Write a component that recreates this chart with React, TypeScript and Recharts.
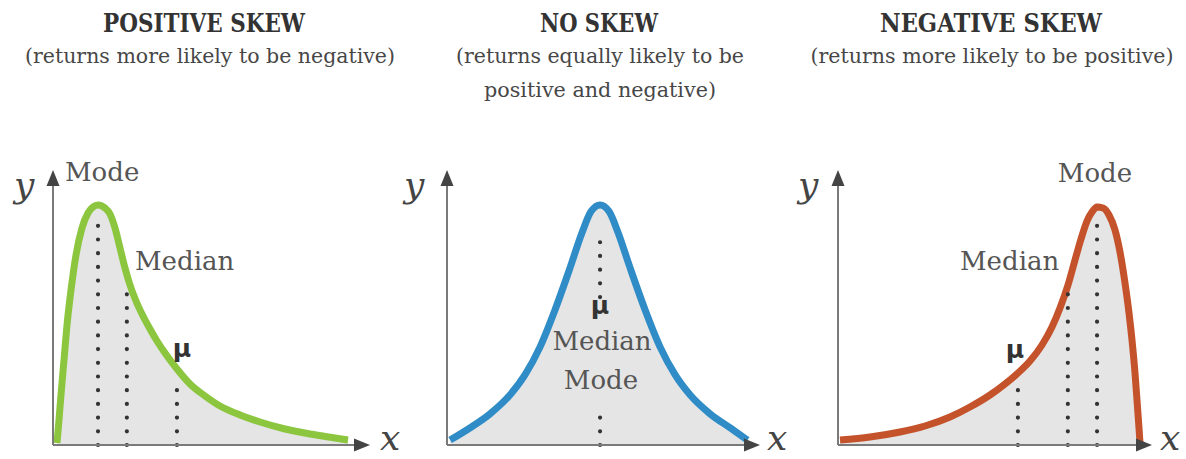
import React from "react";
import { ComposedChart, Area, XAxis, YAxis, ReferenceLine } from "recharts";

// curve points, x and y in 0..100 units of each panel
const posX = [1.26, 1.89, 2.52, 3.47, 4.42, 5.68, 7.26, 9.15, 11.04, 12.62, 14.2, 16.4, 17.98, 19.56, 21.14, 22.71, 24.29, 26.18, 28.39, 30.6, 32.81, 35.33, 39.12, 43.22, 47.95, 52.68, 58.99, 65.3, 73.19, 81.07, 88.96, 93.06];
const posY = [0.73, 9.09, 18.18, 30.91, 43.64, 56.36, 69.09, 78.91, 84.36, 86.55, 87.27, 86.18, 84.0, 78.91, 71.64, 64.36, 58.18, 52.36, 46.91, 42.18, 37.82, 33.45, 27.64, 22.18, 17.82, 14.18, 10.91, 8.36, 5.82, 4.0, 2.55, 1.82];

const symX = [1.0, 7.3, 13.7, 20.1, 24.9, 29.7, 34.5, 39.3, 43.1, 46.0, 48.9, 51.8, 54.7, 58.5, 63.3, 68.1, 72.9, 77.7, 84.1, 90.5, 96.0];
const symY = [1.8, 6.2, 11.3, 18.2, 25.5, 35.6, 49.1, 64.4, 77.1, 84.9, 87.3, 84.9, 77.1, 64.4, 49.1, 35.6, 25.5, 18.2, 11.3, 6.2, 1.8];

const negX = [0.64, 10.19, 19.75, 27.71, 35.67, 42.04, 48.41, 53.18, 57.32, 61.15, 64.97, 68.15, 70.7, 73.25, 75.48, 77.39, 79.3, 80.89, 82.48, 84.39, 86.31, 88.22, 89.81, 91.4, 92.68, 93.63, 94.59, 95.22, 95.86, 96.18];
const negY = [1.82, 2.91, 4.73, 6.91, 10.18, 13.82, 18.18, 22.18, 26.18, 30.55, 36.36, 42.91, 49.82, 58.18, 67.27, 74.91, 81.45, 84.73, 86.55, 86.18, 83.64, 78.18, 70.18, 58.91, 48.0, 38.18, 26.18, 16.36, 6.18, 0.73];

// dotted guide lines: [x, from, to]
const posGuides = [[14.2, 0, 81.8], [23.3, 0, 57.5], [39.1, 0, 22.5]];
const symGuides = [[48.9, 0, 12.7], [48.9, 53.8, 78.2]];
const negGuides = [[82.5, 0, 81.8], [73.2, 0, 57.5], [57.3, 0, 23.6]];

const titles = ["POSITIVE SKEW", "NO SKEW", "NEGATIVE SKEW"];
const subtitles = [
  ["(returns more likely to be negative)"],
  ["(returns equally likely to be", "positive and negative)"],
  ["(returns more likely to be positive)"],
];

const toRows = (xs: number[], ys: number[]) => xs.map((x, i) => ({ x, y: ys[i] }));

const Arrow = (props: any) => {
  const { x1, y1, x2, y2 } = props;
  const a = Math.atan2(y2 - y1, x2 - x1);
  const len = 16;
  const hw = 6.5;
  const bx = x2 - len * Math.cos(a);
  const by = y2 - len * Math.sin(a);
  const pts = `${x2},${y2} ${bx - hw * Math.sin(a)},${by + hw * Math.cos(a)} ${bx + hw * Math.sin(a)},${by - hw * Math.cos(a)}`;
  return (
    <g>
      <line x1={x1} y1={y1} x2={bx + Math.cos(a)} y2={by + Math.sin(a)} stroke="#7a7a7a" strokeWidth={2} />
      <polygon points={pts} fill="#444" />
    </g>
  );
};

const Dots = (props: any) => {
  const { x1, y1, x2, y2 } = props;
  return (
    <line x1={x1} y1={y1} x2={x2} y2={y2} stroke="#333" strokeWidth={4.2}
      strokeLinecap="round" strokeDasharray="0 13.7" />
  );
};

function Panel({ left, width, rows, guides, color }: any) {
  const m = 20;
  return (
    <div style={{ position: "absolute", left: left - m, top: 170 - m }}>
      <ComposedChart width={width + 2 * m} height={275 + 2 * m} data={rows}
        margin={{ top: m, right: m, bottom: m, left: m }}>
        <XAxis dataKey="x" type="number" domain={[0, 100]} hide />
        <YAxis type="number" domain={[0, 100]} hide />
        <Area type="monotone" dataKey="y" baseValue={0} stroke={color} strokeWidth={7}
          fill="#e5e5e5" fillOpacity={1} dot={false} activeDot={false} isAnimationActive={false} />
        {guides.map((g: number[], i: number) => (
          <ReferenceLine key={i} segment={[{ x: g[0], y: g[1] }, { x: g[0], y: g[2] }]}
            ifOverflow="visible" shape={Dots} />
        ))}
        <ReferenceLine segment={[{ x: 0, y: 0 }, { x: 100, y: 0 }]} ifOverflow="visible" shape={Arrow} />
        <ReferenceLine segment={[{ x: 0, y: 0 }, { x: 0, y: 100 }]} ifOverflow="visible" shape={Arrow} />
      </ComposedChart>
    </div>
  );
}

const serif = "'DejaVu Serif', serif";
const label = { fontFamily: serif, fontSize: 26, fill: "#555" };
const mu = { fontFamily: "'DejaVu Sans', sans-serif", fontSize: 25, fontWeight: 700, fill: "#333", textAnchor: "middle" as const };
const axisLab = { fontFamily: serif, fontSize: 36, fontStyle: "italic", fill: "#444" };

export default function App() {
  const titleX = [204, 599, 991];
  const titleLen = [202, 118, 222];
  const subLen = [[370], [288, 232], [363]];
  return (
    <div style={{ position: "absolute", left: 0, top: 0, width: 1186, height: 459, overflow: "hidden", background: "#fff" }}>
      <Panel left={53} width={317} rows={toRows(posX, posY)} guides={posGuides} color="#8cc63f" />
      <Panel left={447} width={313} rows={toRows(symX, symY)} guides={symGuides} color="#2f8cc6" />
      <Panel left={838} width={314} rows={toRows(negX, negY)} guides={negGuides} color="#c4532b" />
      <svg width={1186} height={459} style={{ position: "absolute", left: 0, top: 0, pointerEvents: "none" }}>
        {titles.map((t, i) => (
          <text key={t} x={titleX[i]} y={32} textAnchor="middle" fontFamily={serif} fontWeight={700}
            fontSize={26} fill="#333" textLength={titleLen[i]} lengthAdjust="spacingAndGlyphs">{t}</text>
        ))}
        {subtitles.map((lines, i) => lines.map((s, j) => (
          <text key={s} x={titleX[i] + (i === 0 ? 6 : 1)} y={63 + j * 34} textAnchor="middle" fontFamily={serif}
            fontSize={21} fill="#474747" textLength={subLen[i][j]} lengthAdjust="spacingAndGlyphs">{s}</text>
        )))}

        <text x={65} y={181} {...label}>Mode</text>
        <text x={135} y={270} {...label}>Median</text>
        <text x={182} y={357} {...mu}>μ</text>

        <text x={600} y={314} {...mu}>μ</text>
        <text x={602} y={350} {...label} textAnchor="middle">Median</text>
        <text x={601} y={389} {...label} textAnchor="middle">Mode</text>

        <text x={1095} y={182} {...label} textAnchor="middle">Mode</text>
        <text x={960} y={270} {...label}>Median</text>
        <text x={1015} y={358} {...mu}>μ</text>

        {[14, 404, 798].map((x) => <text key={"y" + x} x={x} y={197} {...axisLab}>y</text>)}
        {[380, 767, 1160].map((x) => <text key={"x" + x} x={x} y={450} {...axisLab}>x</text>)}
      </svg>
    </div>
  );
}
